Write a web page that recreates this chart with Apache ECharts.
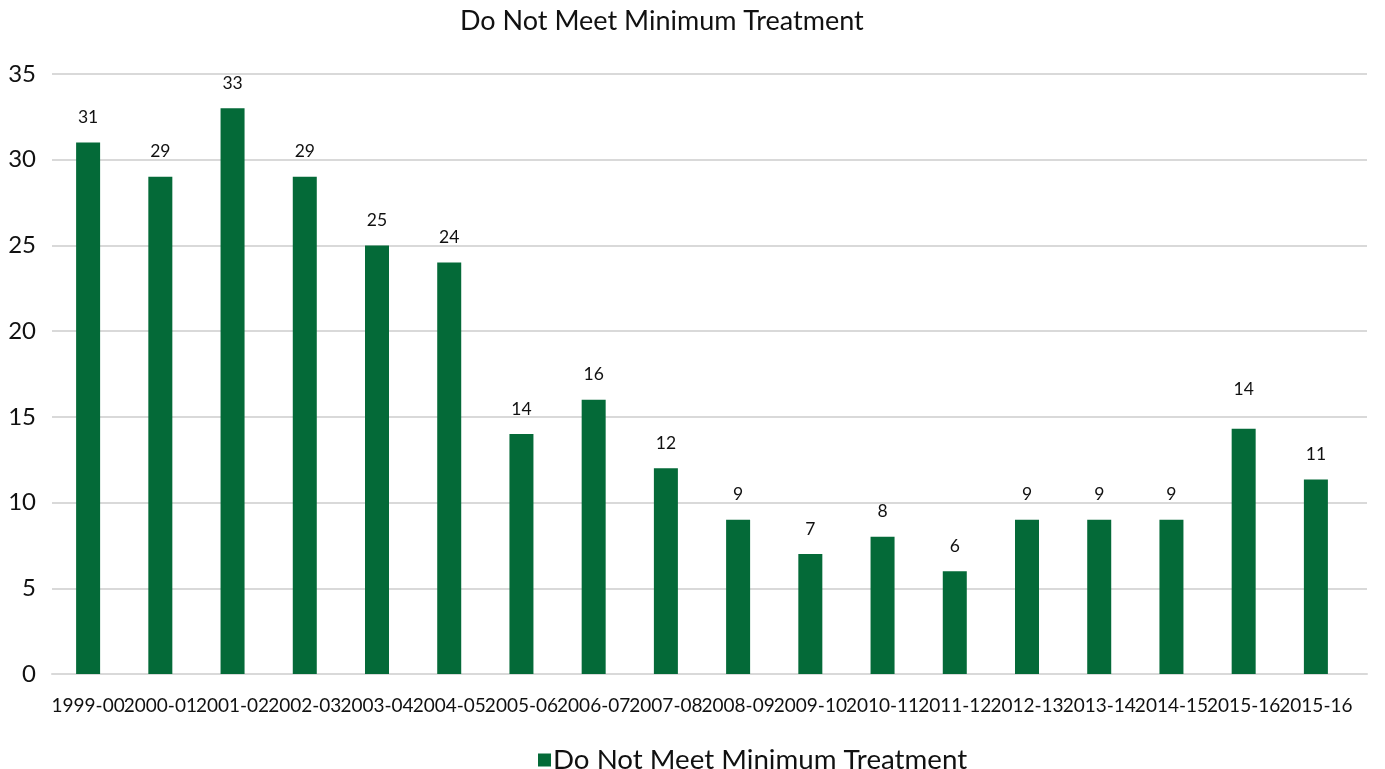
<!DOCTYPE html>
<html>
<head>
<meta charset="utf-8">
<script src="https://cdn.jsdelivr.net/npm/echarts@6/dist/echarts.min.js"></script>
<style>
  html, body { margin: 0; padding: 0; background: #fff; }
  #main { width: 1385px; height: 769px; }
</style>
</head>
<body>
<div id="main"></div>
<script>
const categories = ['1999-00', '2000-01', '2001-02', '2002-03', '2003-04', '2004-05', '2005-06', '2006-07', '2007-08',
  '2008-09', '2009-10', '2010-11', '2011-12', '2012-13', '2013-14', '2014-15', '2015-16', '2015-16'];
const values = [31, 29, 33, 29, 25, 24, 14, 16, 12, 9, 7, 8, 6, 9, 9, 9, 14.3, 11.35];
const yTicks = { min: 0, max: 35, interval: 5 };

const font = 'Lato, "Open Sans", sans-serif';
const green = '#046a38';

// the 14 label over the second last bar sits higher in the original
const barData = values.map((v, i) => i === 16 ? { value: v, label: { distance: 30 } } : v);

const chart = echarts.init(document.getElementById('main'));
chart.setOption({
  animation: false,
  title: {
    text: 'Do Not Meet Minimum Treatment',
    left: 455,
    top: 3,
    textStyle: { fontFamily: font, fontSize: 27, fontWeight: 'normal', color: '#111' }
  },
  legend: {
    data: ['Do Not Meet Minimum Treatment'],
    left: 533,
    top: 741,
    icon: 'rect',
    itemWidth: 13,
    itemHeight: 13,
    itemGap: 4,
    textStyle: { fontFamily: font, fontSize: 27.7, color: '#111', padding: [0, 0, 0, -3] }
  },
  grid: [
    { left: 52, right: 33, top: 74, bottom: 95 },
    // full width grid just for the gridlines
    { left: 52, right: 18, top: 74, bottom: 95 }
  ],
  xAxis: [{
    type: 'category',
    gridIndex: 0,
    data: categories,
    axisLine: { show: false },
    axisTick: { show: false },
    axisLabel: {
      interval: 0,
      hideOverlap: false,
      margin: 22,
      fontFamily: font,
      fontSize: 19,
      color: '#111'
    }
  }, {
    type: 'category',
    gridIndex: 1,
    data: categories,
    axisLine: { show: true, lineStyle: { color: '#d9d9d9', width: 2 } },
    axisTick: { show: false },
    axisLabel: { show: false }
  }],
  yAxis: [{
    type: 'value',
    gridIndex: 0,
    min: yTicks.min,
    max: yTicks.max,
    interval: yTicks.interval,
    axisLine: { show: false },
    axisTick: { show: false },
    splitLine: { show: false },
    axisLabel: { margin: 16, fontFamily: font, fontSize: 24, color: '#111' }
  }, {
    type: 'value',
    gridIndex: 1,
    min: yTicks.min,
    max: yTicks.max,
    interval: yTicks.interval,
    axisLine: { show: false },
    axisTick: { show: false },
    axisLabel: { show: false },
    splitLine: { lineStyle: { color: '#d9d9d9', width: 2 } }
  }],
  series: [{
    name: 'Do Not Meet Minimum Treatment',
    type: 'bar',
    xAxisIndex: 0,
    yAxisIndex: 0,
    data: barData,
    barWidth: 24,
    z: 3,
    itemStyle: { color: green },
    label: {
      show: true,
      position: 'top',
      distance: 16,
      fontFamily: font,
      fontSize: 17.5,
      color: '#111',
      formatter: p => Math.round(p.value)
    }
  }]
});
</script>
</body>
</html>
